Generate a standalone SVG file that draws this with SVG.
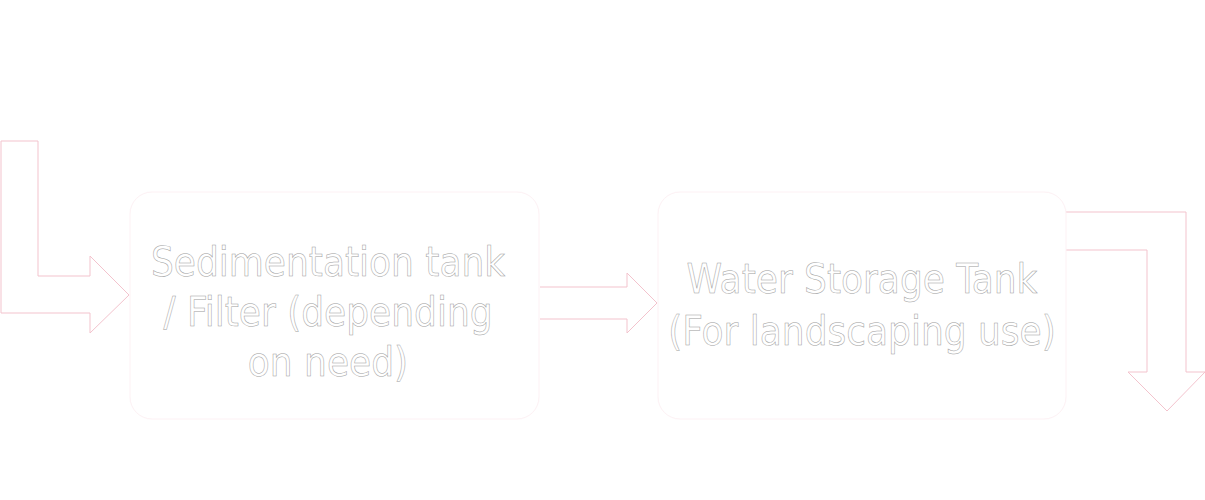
<svg xmlns="http://www.w3.org/2000/svg" width="1205" height="500" viewBox="0 0 1205 500">
<style>
.arrow{fill:#ffffff;stroke:#f3c3cd;stroke-width:1}
.box{fill:#ffffff;stroke:#fdf1f4;stroke-width:1}
.lbl{font-family:"DejaVu Sans Condensed","DejaVu Sans",sans-serif;font-size:40px;fill:#ffffff;stroke:#a0a0a0;stroke-width:0.5;text-anchor:middle}
</style>
<rect width="1205" height="500" fill="#ffffff"/>
<g id="connectors">
<path class="arrow" d="M1,141 H38 V276 H90 V256 L129,295 L90,333 V313 H1 Z"/>
<path class="arrow" d="M540,287 H627 V273 L657,303 L627,333 V319 H540"/>
<path class="arrow" d="M1066,212 H1186 V372 H1205 L1167,411 L1128,372 H1147 V250 H1066"/>
</g>
<g id="node1">
<rect class="box" x="130" y="192" width="409" height="227" rx="22"/>
<text class="lbl" x="328" y="276">Sedimentation tank</text>
<text class="lbl" x="328" y="326">/ Filter (depending</text>
<text class="lbl" x="328" y="376">on need)</text>
</g>
<g id="node2">
<rect class="box" x="658" y="192" width="408" height="227" rx="22"/>
<text class="lbl" x="862" y="293">Water Storage Tank</text>
<text class="lbl" x="862" y="345">(For landscaping use)</text>
</g>
</svg>
